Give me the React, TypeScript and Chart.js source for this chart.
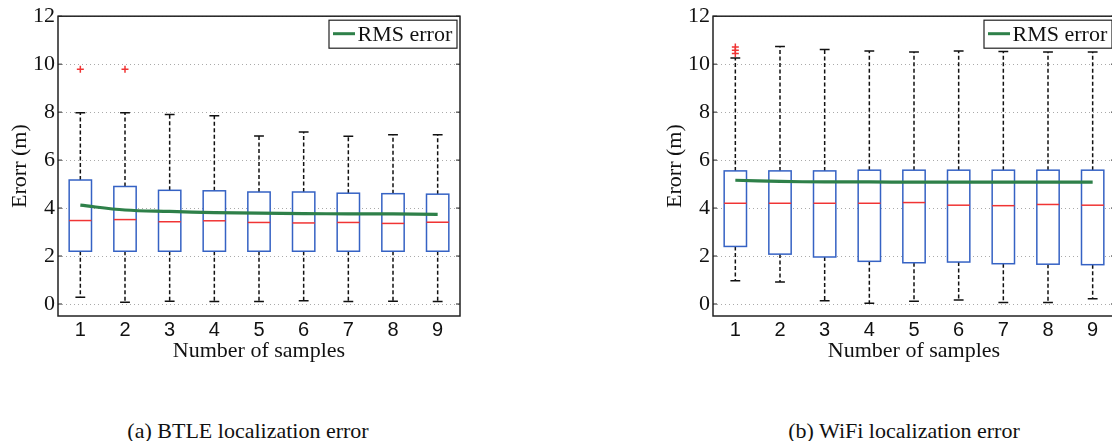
import React, { useEffect, useRef } from 'react';
import { Chart, registerables } from 'chart.js';
Chart.register(...registerables);

const samples = [1, 2, 3, 4, 5, 6, 7, 8, 9];
const yTickValues = [0, 2, 4, 6, 8, 10, 12];

const btleQ1 = [2.2, 2.2, 2.2, 2.2, 2.2, 2.2, 2.2, 2.2, 2.2];
const btleMedian = [3.48, 3.52, 3.43, 3.47, 3.4, 3.38, 3.4, 3.36, 3.41];
const btleQ3 = [5.17, 4.9, 4.74, 4.72, 4.67, 4.67, 4.62, 4.6, 4.58];
const btleLow = [0.28, 0.07, 0.12, 0.1, 0.1, 0.14, 0.1, 0.11, 0.1];
const btleHigh = [7.97, 7.97, 7.9, 7.85, 7.0, 7.17, 6.99, 7.06, 7.06];
const btleRms = [4.12, 3.92, 3.86, 3.81, 3.79, 3.77, 3.76, 3.76, 3.74];
const btleOutlierX = [1, 2];
const btleOutlierY = [9.79, 9.79];

const wifiQ1 = [2.4, 2.08, 1.96, 1.78, 1.72, 1.75, 1.68, 1.66, 1.64];
const wifiMedian = [4.2, 4.2, 4.2, 4.2, 4.23, 4.12, 4.1, 4.15, 4.12];
const wifiQ3 = [5.55, 5.55, 5.55, 5.58, 5.58, 5.58, 5.58, 5.58, 5.58];
const wifiLow = [0.97, 0.92, 0.14, 0.03, 0.12, 0.17, 0.06, 0.06, 0.22];
const wifiHigh = [10.26, 10.74, 10.61, 10.55, 10.51, 10.55, 10.53, 10.51, 10.51];
const wifiRms = [5.16, 5.11, 5.09, 5.09, 5.08, 5.08, 5.08, 5.08, 5.08];
const wifiOutlierX = [1, 1, 1];
const wifiOutlierY = [10.45, 10.58, 10.72];

const legendLabel = 'RMS error';
const xTitle = 'Number of samples';
const yTitle = 'Erorr (m)';
const captions = ['(a) BTLE localization error', '(b) WiFi localization error'];

const SERIF = '"Liberation Serif", "Times New Roman", serif';
const SANS = '"Liberation Sans", Arial, sans-serif';
const BLUE = '#3562c4';
const RED = '#f03434';
const GREEN = '#2e8049';

type BoxData = { q1: number[]; med: number[]; q3: number[]; lo: number[]; hi: number[] };

function makeBoxPlugin(d: BoxData) {
  return {
    id: 'boxes',
    beforeDatasetsDraw(chart: any) {
      const { ctx, scales } = chart;
      const x = scales.x, y = scales.y;
      const half = x.getPixelForValue(1.25) - x.getPixelForValue(1);
      const cap = x.getPixelForValue(1.11) - x.getPixelForValue(1);
      ctx.save();
      samples.forEach((c, i) => {
        const px = x.getPixelForValue(c);
        const yq1 = y.getPixelForValue(d.q1[i]);
        const yq3 = y.getPixelForValue(d.q3[i]);
        const ylo = y.getPixelForValue(d.lo[i]);
        const yhi = y.getPixelForValue(d.hi[i]);
        const ymed = y.getPixelForValue(d.med[i]);
        ctx.strokeStyle = '#111';
        ctx.lineWidth = 1.5;
        ctx.setLineDash([4, 2.5]);
        ctx.beginPath();
        ctx.moveTo(px, yq3);
        ctx.lineTo(px, yhi);
        ctx.moveTo(px, yq1);
        ctx.lineTo(px, ylo);
        ctx.stroke();
        ctx.setLineDash([]);
        ctx.beginPath();
        ctx.moveTo(px - cap, yhi);
        ctx.lineTo(px + cap, yhi);
        ctx.moveTo(px - cap, ylo);
        ctx.lineTo(px + cap, ylo);
        ctx.stroke();
        ctx.fillStyle = 'white';
        ctx.fillRect(px - half, yq3, 2 * half, yq1 - yq3);
        ctx.strokeStyle = BLUE;
        ctx.lineWidth = 1.5;
        ctx.strokeRect(px - half, yq3, 2 * half, yq1 - yq3);
        ctx.strokeStyle = RED;
        ctx.beginPath();
        ctx.moveTo(px - half, ymed);
        ctx.lineTo(px + half, ymed);
        ctx.stroke();
      });
      ctx.restore();
    },
    afterDraw(chart: any) {
      const { ctx, chartArea: a, scales } = chart;
      const y = scales.y;
      ctx.save();
      ctx.strokeStyle = '#222';
      ctx.lineWidth = 1.5;
      ctx.strokeRect(a.left, a.top, a.right - a.left, a.bottom - a.top);
      ctx.lineWidth = 1;
      ctx.beginPath();
      yTickValues.forEach((v) => {
        const py = y.getPixelForValue(v);
        ctx.moveTo(a.left, py);
        ctx.lineTo(a.left + 4, py);
        ctx.moveTo(a.right - 4, py);
        ctx.lineTo(a.right, py);
      });
      ctx.stroke();
      // legend box
      const bw = 128, bh = 28;
      const bx = a.right - 3 - bw, by = a.top + 4;
      ctx.fillStyle = 'white';
      ctx.fillRect(bx, by, bw, bh);
      ctx.strokeStyle = '#222';
      ctx.lineWidth = 1.2;
      ctx.strokeRect(bx, by, bw, bh);
      ctx.strokeStyle = GREEN;
      ctx.lineWidth = 3;
      ctx.beginPath();
      ctx.moveTo(bx + 4, by + 13.5);
      ctx.lineTo(bx + 26, by + 13.5);
      ctx.stroke();
      ctx.fillStyle = '#111';
      ctx.font = `22px ${SERIF}`;
      ctx.textBaseline = 'alphabetic';
      ctx.textAlign = 'left';
      ctx.fillText(legendLabel, bx + 28.5, by + 21);
      ctx.restore();
    },
  };
}

function BoxChart(props: {
  box: BoxData;
  rms: number[];
  ox: number[];
  oy: number[];
  left: number;
}) {
  const ref = useRef<HTMLCanvasElement>(null);
  useEffect(() => {
    const canvas = ref.current!;
    const chart = new Chart(canvas, {
      type: 'scatter',
      data: {
        datasets: [
          {
            type: 'line',
            label: legendLabel,
            data: samples.map((s, i) => ({ x: s, y: props.rms[i] })),
            borderColor: GREEN,
            borderWidth: 3.2,
            pointRadius: 0,
            tension: 0.35,
            fill: false,
          } as any,
          {
            type: 'scatter',
            label: 'outliers',
            data: props.ox.map((xv, i) => ({ x: xv, y: props.oy[i] })),
            pointStyle: 'cross',
            pointRadius: 3.5,
            borderColor: RED,
            backgroundColor: RED,
            borderWidth: 1.5,
          } as any,
        ],
      },
      options: {
        responsive: false,
        animation: false,
        layout: { padding: { left: 0, top: 16, right: 20, bottom: 0 } },
        plugins: { legend: { display: false }, tooltip: { enabled: false } },
        scales: {
          x: {
            type: 'linear',
            min: 0.5,
            max: 9.5,
            grid: { display: false, drawTicks: false },
            border: { display: false },
            ticks: {
              padding: 2,
              color: '#111',
              font: { family: SANS, size: 20 },
              maxRotation: 0,
              autoSkip: false,
              callback: (v: number) => String(v),
            } as any,
            afterBuildTicks: (s: any) => {
              s.ticks = samples.map((v) => ({ value: v }));
            },
            title: {
              display: true,
              text: xTitle,
              color: '#111',
              font: { family: SERIF, size: 22 },
              padding: { top: 0, bottom: 6 },
            },
            afterFit: (s: any) => {
              s.height = 54;
            },
          },
          y: {
            type: 'linear',
            min: -0.5,
            max: 12,
            grid: { color: '#aaa', lineWidth: 1, drawTicks: false },
            border: { display: false, dash: [1, 3] },
            ticks: {
              padding: 3,
              color: '#111',
              font: { family: SERIF, size: 22 },
            } as any,
            afterBuildTicks: (s: any) => {
              s.ticks = yTickValues.map((v) => ({ value: v }));
            },
            title: {
              display: true,
              text: yTitle,
              color: '#111',
              font: { family: SERIF, size: 22 },
              padding: { top: 7, bottom: 0 },
            },
            afterFit: (s: any) => {
              s.width = 58;
            },
          },
        },
      },
      plugins: [makeBoxPlugin(props.box)],
    } as any);
    return () => chart.destroy();
  }, []);
  return (
    <canvas
      ref={ref}
      width={480}
      height={370}
      style={{ position: 'absolute', left: props.left, top: 0, width: 480, height: 370 }}
    />
  );
}

export default function App() {
  return (
    <div
      style={{
        position: 'absolute',
        left: 0,
        top: 0,
        width: 1112,
        height: 441,
        overflow: 'hidden',
        background: 'white',
      }}
    >
      <BoxChart
        box={{ q1: btleQ1, med: btleMedian, q3: btleQ3, lo: btleLow, hi: btleHigh }}
        rms={btleRms}
        ox={btleOutlierX}
        oy={btleOutlierY}
        left={0}
      />
      <BoxChart
        box={{ q1: wifiQ1, med: wifiMedian, q3: wifiQ3, lo: wifiLow, hi: wifiHigh }}
        rms={wifiRms}
        ox={wifiOutlierX}
        oy={wifiOutlierY}
        left={655}
      />
      {captions.map((c, i) => (
        <div
          key={c}
          style={{
            position: 'absolute',
            left: (i === 0 ? 248 : 904) - 200,
            top: 418,
            width: 400,
            textAlign: 'center',
            font: `22px ${SERIF}`,
            lineHeight: '26px',
            color: '#111',
            whiteSpace: 'nowrap',
          }}
        >
          {c}
        </div>
      ))}
    </div>
  );
}
